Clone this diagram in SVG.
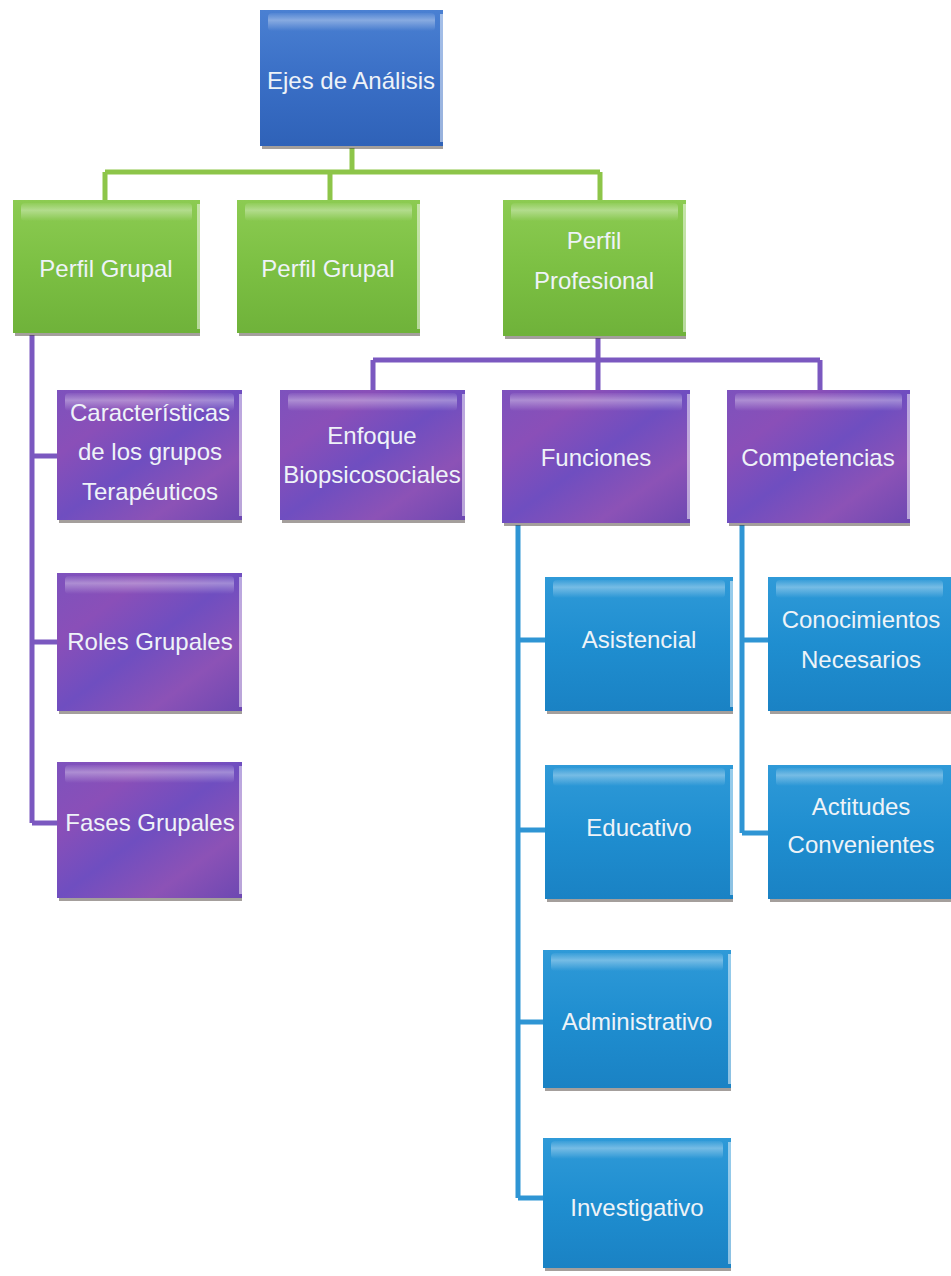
<svg xmlns="http://www.w3.org/2000/svg" width="951" height="1276" viewBox="0 0 951 1276">
<defs>
<linearGradient id="gBlueTop" x1="0" y1="0" x2="0" y2="1"><stop offset="0" stop-color="#4a80d2"/><stop offset="0.5" stop-color="#3a6fc6"/><stop offset="1" stop-color="#2f62b8"/></linearGradient>
<linearGradient id="gGreen" x1="0" y1="0" x2="0" y2="1"><stop offset="0" stop-color="#8ccb52"/><stop offset="0.5" stop-color="#7cc043"/><stop offset="1" stop-color="#6fb23a"/></linearGradient>
<linearGradient id="gPurple" x1="0" y1="0" x2="1" y2="1"><stop offset="0" stop-color="#7d52bd"/><stop offset="0.25" stop-color="#8a4fb8"/><stop offset="0.5" stop-color="#6f4ec0"/><stop offset="0.75" stop-color="#8c52b6"/><stop offset="1" stop-color="#6d48b2"/></linearGradient>
<linearGradient id="gBlue" x1="0" y1="0" x2="0" y2="1"><stop offset="0" stop-color="#2f9ad8"/><stop offset="0.5" stop-color="#1f8ed0"/><stop offset="1" stop-color="#1a82c4"/></linearGradient>
<linearGradient id="gHi" x1="0" y1="0" x2="0" y2="1"><stop offset="0" stop-color="#ffffff" stop-opacity="0.05"/><stop offset="0.4" stop-color="#ffffff" stop-opacity="0.35"/><stop offset="1" stop-color="#ffffff" stop-opacity="0"/></linearGradient>
</defs>
<style>
.hi{fill:url(#gHi)}
.sh{fill:#4a3f3a;opacity:0.5}
.edge{fill:#ffffff;opacity:0.5}
.t{font-family:"Liberation Sans",Arial,sans-serif;font-size:24px;fill:#eef3f8;text-anchor:middle}
.cg{stroke:#8dc549;stroke-width:5;fill:none}
.cp{stroke:#7b58c0;stroke-width:5;fill:none}
.cb{stroke:#2f95d4;stroke-width:5;fill:none}
</style>
<rect width="951" height="1276" fill="#ffffff"/>
<g id="connectors">
<path class="cg" d="M352,148 V172 M105,172 H600 M105,172 V200 M330,172 V200 M600,172 V200"/>
<path class="cp" d="M32,335 V823 M32,456 H57 M32,642 H57 M32,823 H57 M598,338 V360 M373,360 H820 M373,360 V390 M598,360 V390 M820,360 V390"/>
<path class="cb" d="M518,525 V1198 M518,640 H545 M518,830 H545 M518,1022 H543 M518,1198 H543 M742,525 V833 M742,640 H768 M742,833 H768"/>
</g>
<g id="n-ejes"><rect class="sh" x="262" y="144" width="181" height="5"/><rect x="260" y="10" width="183" height="136" fill="url(#gBlueTop)"/><rect class="hi" x="268" y="13" width="167" height="18" rx="4"/><rect class="edge" x="440" y="14" width="3" height="128"/><text class="t" x="351" y="89">Ejes de Análisis</text></g>
<g id="n-perfil1"><rect class="sh" x="15" y="331" width="185" height="5"/><rect x="13" y="200" width="187" height="133" fill="url(#gGreen)"/><rect class="hi" x="21" y="203" width="171" height="18" rx="4"/><rect class="edge" x="197" y="204" width="3" height="125"/><text class="t" x="106" y="277">Perfil Grupal</text></g>
<g id="n-perfil2"><rect class="sh" x="239" y="331" width="181" height="5"/><rect x="237" y="200" width="183" height="133" fill="url(#gGreen)"/><rect class="hi" x="245" y="203" width="167" height="18" rx="4"/><rect class="edge" x="417" y="204" width="3" height="125"/><text class="t" x="328" y="277">Perfil Grupal</text></g>
<g id="n-perfilprof"><rect class="sh" x="505" y="334" width="181" height="5"/><rect x="503" y="200" width="183" height="136" fill="url(#gGreen)"/><rect class="hi" x="511" y="203" width="167" height="18" rx="4"/><rect class="edge" x="683" y="204" width="3" height="128"/><text class="t" x="594" y="249">Perfil</text><text class="t" x="594" y="289">Profesional</text></g>
<g id="n-caracteristicas"><rect class="sh" x="59" y="518" width="183" height="5"/><rect x="57" y="390" width="185" height="130" fill="url(#gPurple)"/><rect class="hi" x="65" y="393" width="169" height="18" rx="4"/><rect class="edge" x="239" y="394" width="3" height="122"/><text class="t" x="150" y="421">Características</text><text class="t" x="150" y="460">de los grupos</text><text class="t" x="150" y="500">Terapéuticos</text></g>
<g id="n-enfoque"><rect class="sh" x="282" y="518" width="183" height="5"/><rect x="280" y="390" width="185" height="130" fill="url(#gPurple)"/><rect class="hi" x="288" y="393" width="169" height="18" rx="4"/><rect class="edge" x="462" y="394" width="3" height="122"/><text class="t" x="372" y="444">Enfoque</text><text class="t" x="372" y="483">Biopsicosociales</text></g>
<g id="n-funciones"><rect class="sh" x="504" y="521" width="186" height="5"/><rect x="502" y="390" width="188" height="133" fill="url(#gPurple)"/><rect class="hi" x="510" y="393" width="172" height="18" rx="4"/><rect class="edge" x="687" y="394" width="3" height="125"/><text class="t" x="596" y="466">Funciones</text></g>
<g id="n-competencias"><rect class="sh" x="729" y="521" width="181" height="5"/><rect x="727" y="390" width="183" height="133" fill="url(#gPurple)"/><rect class="hi" x="735" y="393" width="167" height="18" rx="4"/><rect class="edge" x="907" y="394" width="3" height="125"/><text class="t" x="818" y="466">Competencias</text></g>
<g id="n-roles"><rect class="sh" x="59" y="709" width="183" height="5"/><rect x="57" y="573" width="185" height="138" fill="url(#gPurple)"/><rect class="hi" x="65" y="576" width="169" height="18" rx="4"/><rect class="edge" x="239" y="577" width="3" height="130"/><text class="t" x="150" y="650">Roles Grupales</text></g>
<g id="n-fases"><rect class="sh" x="59" y="896" width="183" height="5"/><rect x="57" y="762" width="185" height="136" fill="url(#gPurple)"/><rect class="hi" x="65" y="765" width="169" height="18" rx="4"/><rect class="edge" x="239" y="766" width="3" height="128"/><text class="t" x="150" y="831">Fases Grupales</text></g>
<g id="n-asistencial"><rect class="sh" x="547" y="709" width="186" height="5"/><rect x="545" y="577" width="188" height="134" fill="url(#gBlue)"/><rect class="hi" x="553" y="580" width="172" height="18" rx="4"/><rect class="edge" x="730" y="581" width="3" height="126"/><text class="t" x="639" y="648">Asistencial</text></g>
<g id="n-conocimientos"><rect class="sh" x="770" y="709" width="181" height="5"/><rect x="768" y="577" width="183" height="134" fill="url(#gBlue)"/><rect class="hi" x="776" y="580" width="167" height="18" rx="4"/><text class="t" x="861" y="628">Conocimientos</text><text class="t" x="861" y="668">Necesarios</text></g>
<g id="n-educativo"><rect class="sh" x="547" y="897" width="186" height="5"/><rect x="545" y="765" width="188" height="134" fill="url(#gBlue)"/><rect class="hi" x="553" y="768" width="172" height="18" rx="4"/><rect class="edge" x="730" y="769" width="3" height="126"/><text class="t" x="639" y="836">Educativo</text></g>
<g id="n-actitudes"><rect class="sh" x="770" y="897" width="181" height="5"/><rect x="768" y="765" width="183" height="134" fill="url(#gBlue)"/><rect class="hi" x="776" y="768" width="167" height="18" rx="4"/><text class="t" x="861" y="815">Actitudes</text><text class="t" x="861" y="853">Convenientes</text></g>
<g id="n-administrativo"><rect class="sh" x="545" y="1086" width="186" height="5"/><rect x="543" y="950" width="188" height="138" fill="url(#gBlue)"/><rect class="hi" x="551" y="953" width="172" height="18" rx="4"/><rect class="edge" x="728" y="954" width="3" height="130"/><text class="t" x="637" y="1030">Administrativo</text></g>
<g id="n-investigativo"><rect class="sh" x="545" y="1266" width="186" height="5"/><rect x="543" y="1138" width="188" height="130" fill="url(#gBlue)"/><rect class="hi" x="551" y="1141" width="172" height="18" rx="4"/><rect class="edge" x="728" y="1142" width="3" height="122"/><text class="t" x="637" y="1216">Investigativo</text></g>
</svg>
